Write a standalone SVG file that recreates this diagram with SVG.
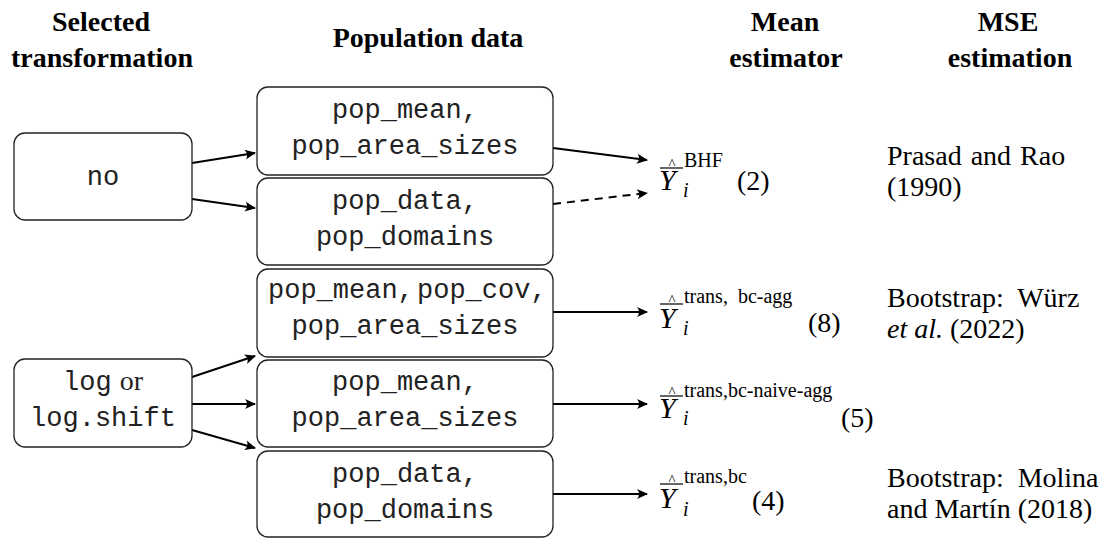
<svg xmlns="http://www.w3.org/2000/svg" width="1112" height="538" viewBox="0 0 1112 538">
<style>
.hdr{font-weight:bold;font-size:28px;text-anchor:middle;fill:#000}
.box{fill:#fff;stroke:#222;stroke-width:1.3}
.mono{font-size:27px;fill:#222;text-anchor:middle}
.ser{font-size:28px;fill:#000}
.Y{font-size:30px;font-style:italic;fill:#000}
.it{font-style:italic}
.sup{font-size:20px;fill:#000}
.hat{font-size:15px;fill:#000;text-anchor:middle}
.bar{stroke:#000;stroke-width:1.2}
.conn{fill:none;stroke:#000;stroke-width:2}
.dash{stroke-dasharray:8,6}
</style>
<defs>
<marker id="arr" viewBox="-11 -6 13 12" refX="0" refY="0" markerWidth="13" markerHeight="12" markerUnits="userSpaceOnUse" orient="auto">
<path d="M1,0 L-10,-5 Q-6,0 -10,5 Z" fill="#000"/>
</marker>
</defs>

<g id="headers" font-family="Liberation Serif, serif">
<text class="hdr" x="101" y="31">Selected</text>
<text class="hdr" x="102" y="67">transformation</text>
<text class="hdr" x="428" y="47">Population data</text>
<text class="hdr" x="785" y="31">Mean</text>
<text class="hdr" x="786" y="67">estimator</text>
<text class="hdr" x="1008" y="31">MSE</text>
<text class="hdr" x="1010" y="67">estimation</text>
</g>

<g id="connectors">
<line class="conn" x1="192" y1="163" x2="255" y2="153" marker-end="url(#arr)"/>
<line class="conn" x1="192" y1="199" x2="255" y2="208" marker-end="url(#arr)"/>
<line class="conn" x1="192" y1="377" x2="255" y2="356" marker-end="url(#arr)"/>
<line class="conn" x1="192" y1="404" x2="255" y2="404" marker-end="url(#arr)"/>
<line class="conn" x1="192" y1="430" x2="255" y2="448" marker-end="url(#arr)"/>
<line class="conn" x1="553" y1="148" x2="647" y2="160" marker-end="url(#arr)"/>
<line class="conn dash" x1="553" y1="204" x2="647" y2="193" marker-end="url(#arr)"/>
<line class="conn" x1="553" y1="312" x2="647" y2="312" marker-end="url(#arr)"/>
<line class="conn" x1="553" y1="404" x2="647" y2="404" marker-end="url(#arr)"/>
<line class="conn" x1="553" y1="494" x2="647" y2="494" marker-end="url(#arr)"/>
</g>

<g font-family="Liberation Mono, monospace">
<g id="node-no">
<rect class="box" x="14" y="133" width="178" height="87" rx="11"/>
<text class="mono" x="103" y="185">no</text>
</g>
<g id="node-log">
<rect class="box" x="14" y="359" width="178" height="88" rx="11"/>
<text class="mono" x="103" y="390"><tspan>log</tspan><tspan font-family="Liberation Serif, serif" dx="8" style="font-size:28px">or</tspan></text>
<text class="mono" x="103" y="426">log.shift</text>
</g>
<g id="node-pop1">
<rect class="box" x="257" y="87" width="296" height="88" rx="11"/>
<text class="mono" x="405" y="118">pop_mean,</text>
<text class="mono" x="405" y="154">pop_area_sizes</text>
</g>
<g id="node-pop2">
<rect class="box" x="257" y="178" width="296" height="87" rx="11"/>
<text class="mono" x="405" y="209">pop_data,</text>
<text class="mono" x="405" y="245">pop_domains</text>
</g>
<g id="node-pop3">
<rect class="box" x="257" y="269" width="296" height="88" rx="11"/>
<text class="mono" style="text-anchor:start" x="268" y="298">pop_mean,<tspan x="417">pop_cov,</tspan></text>
<text class="mono" x="405" y="334">pop_area_sizes</text>
</g>
<g id="node-pop4">
<rect class="box" x="257" y="360" width="296" height="87" rx="11"/>
<text class="mono" x="405" y="390">pop_mean,</text>
<text class="mono" x="405" y="426">pop_area_sizes</text>
</g>
<g id="node-pop5">
<rect class="box" x="257" y="451" width="296" height="86" rx="11"/>
<text class="mono" x="405" y="482">pop_data,</text>
<text class="mono" x="405" y="518">pop_domains</text>
</g>
</g>

<g font-family="Liberation Serif, serif">
<g id="est-bhf">
<text class="Y" x="659" y="190">Y</text>
<line class="bar" x1="660" y1="168" x2="683" y2="168"/>
<text class="hat" x="672" y="169">^</text>
<text class="sup" x="684" y="167">BHF</text>
<text class="sup it" x="683" y="197">i</text>
<text class="ser" x="737" y="190">(2)</text>
</g>
<g id="est-agg">
<text class="Y" x="659" y="328">Y</text>
<line class="bar" x1="660" y1="304" x2="683" y2="304"/>
<text class="hat" x="672" y="305">^</text>
<text class="sup" x="684" y="303" style="word-spacing:5px">trans, bc-agg</text>
<text class="sup it" x="683" y="335">i</text>
<text class="ser" x="808" y="332">(8)</text>
</g>
<g id="est-naive">
<text class="Y" x="659" y="418">Y</text>
<line class="bar" x1="660" y1="396" x2="683" y2="396"/>
<text class="hat" x="672" y="397">^</text>
<text class="sup" x="684" y="397">trans,bc-naive-agg</text>
<text class="sup it" x="683" y="425">i</text>
<text class="ser" x="841" y="427">(5)</text>
</g>
<g id="est-bc">
<text class="Y" x="659" y="508">Y</text>
<line class="bar" x1="660" y1="484" x2="683" y2="484"/>
<text class="hat" x="672" y="485">^</text>
<text class="sup" x="684" y="483">trans,bc</text>
<text class="sup it" x="683" y="516">i</text>
<text class="ser" x="752" y="510">(4)</text>
</g>
<g id="mse">
<text class="ser" x="887" y="165" style="word-spacing:2px">Prasad and Rao</text>
<text class="ser" x="887" y="196">(1990)</text>
<text class="ser" x="887" y="307" style="word-spacing:7px">Bootstrap: Würz</text>
<text class="ser" x="887" y="338"><tspan class="it">et al.</tspan> (2022)</text>
<text class="ser" x="887" y="487" style="word-spacing:7px">Bootstrap: Molina</text>
<text class="ser" x="887" y="518">and Martín (2018)</text>
</g>
</g>
</svg>
